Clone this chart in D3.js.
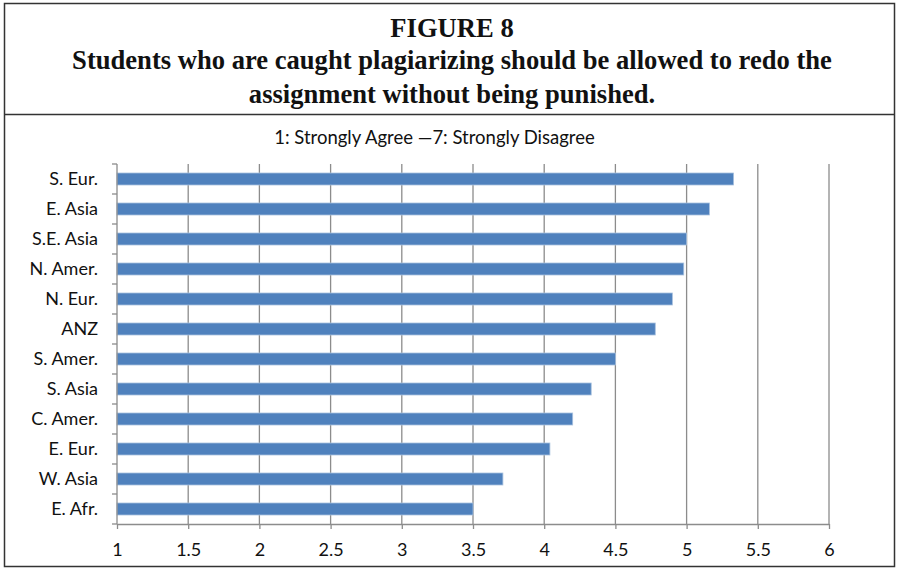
<!DOCTYPE html>
<html>
<head>
<meta charset="utf-8">
<script src="https://cdn.jsdelivr.net/npm/d3@7"></script>
<style>
  html, body { margin: 0; padding: 0; background: #fff; }
  svg { display: block; }
</style>
</head>
<body>
<svg id="chart" width="899" height="569"></svg>
<script>
// Regions, top to bottom, with mean agreement score (1 = strongly agree, 7 = strongly disagree)
const regions = ["S. Eur.", "E. Asia", "S.E. Asia", "N. Amer.", "N. Eur.", "ANZ",
                 "S. Amer.", "S. Asia", "C. Amer.", "E. Eur.", "W. Asia", "E. Afr."];
const scores  = [5.33, 5.16, 5.0, 4.98, 4.9, 4.78, 4.5, 4.33, 4.2, 4.04, 3.71, 3.5];
const xTicks  = [1, 1.5, 2, 2.5, 3, 3.5, 4, 4.5, 5, 5.5, 6];
const titleLines = ["FIGURE 8",
  "Students who are caught plagiarizing should be allowed to redo the",
  "assignment without being punished."];
const subtitle = "1: Strongly Agree \u20147: Strongly Disagree";

(function () {
  const svg = d3.select("#chart");
  const labelFont = "Lato, 'Open Sans', sans-serif";

  // Frame and header separator
  svg.append("rect")
    .attr("x", 4.5).attr("y", 3.5).attr("width", 890).attr("height", 563)
    .attr("fill", "none").attr("stroke", "#333").attr("stroke-width", 1.5);
  svg.append("line")
    .attr("x1", 4).attr("x2", 895).attr("y1", 114.5).attr("y2", 114.5)
    .attr("stroke", "#333").attr("stroke-width", 1.5);

  // Header text: condensed bold serif
  const titleY = [31, 63, 97];
  svg.selectAll("text.title").data(titleLines).join("text")
    .attr("class", "title")
    .attr("transform", (d, i) => `translate(452,${titleY[i]}) scale(0.95,1)`)
    .attr("text-anchor", "middle").attr("dominant-baseline", "middle")
    .attr("font-family", "'Liberation Serif', 'Times New Roman', serif")
    .attr("font-weight", "bold").attr("font-size", 28)
    .attr("fill", "#111")
    .text(d => d);

  svg.append("text")
    .attr("x", 434.5).attr("y", 139)
    .attr("text-anchor", "middle").attr("dominant-baseline", "middle")
    .attr("font-family", labelFont).attr("font-size", 18.5).attr("fill", "#111")
    .text(subtitle);

  // Plot area
  const pl = 117, pr = 829, pt = 164, pb = 524;
  const x = d3.scaleLinear().domain([1, 6]).range([pl, pr]);
  const y = d3.scaleBand().domain(regions).range([pt, pb]).paddingInner(0.6).paddingOuter(0.3);
  const yTickScale = d3.scaleLinear().domain([0, regions.length]).range([pt, pb]);

  const g = svg.append("g");

  // Vertical gridlines
  g.selectAll("line.grid").data(xTicks.slice(1)).join("line")
    .attr("class", "grid")
    .attr("x1", d => x(d)).attr("x2", d => x(d))
    .attr("y1", pt).attr("y2", pb)
    .attr("stroke", "#8c8c8c").attr("stroke-width", 1.3);

  // Bars
  g.selectAll("rect.bar").data(regions).join("rect")
    .attr("class", "bar")
    .attr("x", x(1))
    .attr("y", d => y(d))
    .attr("width", (d, i) => x(scores[i]) - x(1))
    .attr("height", y.bandwidth())
    .attr("fill", "#4f81bd")
    .attr("stroke", "#a7c0de").attr("stroke-width", 0.8);

  // Bottom axis
  const xAxis = d3.axisBottom(x).tickValues(xTicks).tickSize(5).tickSizeOuter(0)
    .tickFormat(d3.format("~g"));
  const xg = svg.append("g").attr("transform", `translate(0,${pb})`).call(xAxis);
  xg.select(".domain").attr("stroke", "#8c8c8c").attr("stroke-width", 1.3);
  xg.selectAll(".tick line").attr("stroke", "#8c8c8c").attr("stroke-width", 1.3);
  xg.selectAll(".tick text")
    .attr("font-family", labelFont).attr("font-size", 18).attr("fill", "#111")
    .attr("dy", "0").attr("y", 32);

  // Left axis with ticks between categories
  svg.append("line")
    .attr("x1", pl).attr("x2", pl).attr("y1", pt).attr("y2", pb)
    .attr("stroke", "#8c8c8c").attr("stroke-width", 1.3);
  svg.selectAll("line.ytick").data(d3.range(regions.length + 1)).join("line")
    .attr("class", "ytick")
    .attr("x1", pl - 5).attr("x2", pl)
    .attr("y1", d => yTickScale(d)).attr("y2", d => yTickScale(d))
    .attr("stroke", "#8c8c8c").attr("stroke-width", 1.3);
  svg.selectAll("text.ylab").data(regions).join("text")
    .attr("class", "ylab")
    .attr("x", 98).attr("y", d => y(d) + y.bandwidth() / 2 + 1.5)
    .attr("text-anchor", "end").attr("dominant-baseline", "middle")
    .attr("font-family", labelFont).attr("font-size", 18).attr("fill", "#111")
    .text(d => d);
})();
</script>
</body>
</html>
